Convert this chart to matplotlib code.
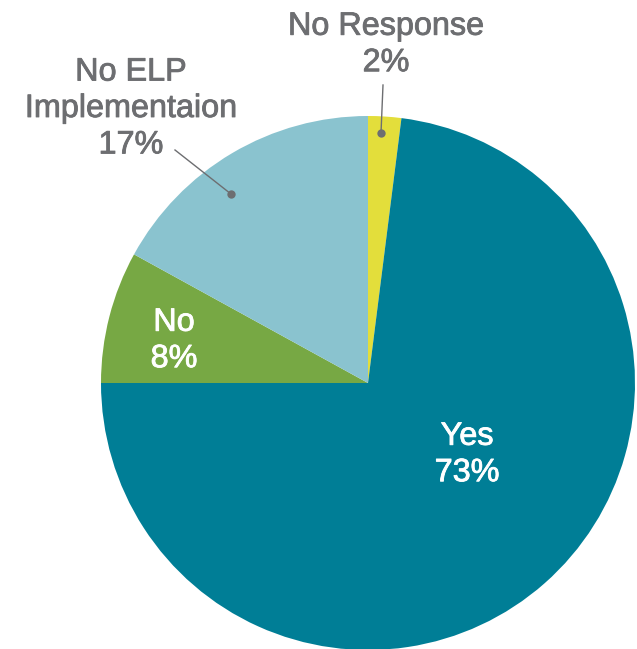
import matplotlib
matplotlib.use("Agg")
import matplotlib.pyplot as plt
import matplotlib.patheffects as pe

labels = ["No Response", "Yes", "No", "No ELP\nImplementaion"]
values = [2, 73, 8, 17]
colors = ["#E3DE3B", "#007E96", "#77A844", "#8AC3CF"]

W, H = 637, 649
fig = plt.figure(figsize=(W / 100, H / 100), dpi=100)
ax = fig.add_axes([0, 0, 1, 1])

cx, cy, R = 368, H - 383, 267
ax.pie(values, colors=colors, startangle=90, counterclock=False,
       center=(cx, cy), radius=R, wedgeprops=dict(linewidth=0),
       frame=True)
ax.set_xlim(0, W)
ax.set_ylim(0, H)
ax.set_aspect("equal")
ax.axis("off")

grey = "#6D6E71"
fam = ["Liberation Sans", "DejaVu Sans"]
fs = 23.3
ls = 1.28

def pct(v):
    return f"{v}%"

def label(x, y, s, c):
    ax.text(x, y, s, ha="center", va="center", color=c, fontsize=fs,
            family=fam, linespacing=ls,
            path_effects=[pe.withStroke(linewidth=0.6, foreground=c)])

label(386, H - 45, f"{labels[0]}\n{pct(values[0])}", grey)
label(131, H - 109, f"{labels[3]}\n{pct(values[3])}", grey)
label(174, H - 341, f"{labels[2]}\n{pct(values[2])}", "white")
label(467, H - 455, f"{labels[1]}\n{pct(values[1])}", "white")

# leader lines with dots
ax.plot([383, 381], [H - 85, H - 133], color=grey, lw=1.0)
ax.plot([175, 231], [H - 150, H - 194], color=grey, lw=1.0)
ax.scatter([381, 231], [H - 133, H - 194], s=36, color=grey, zorder=5, linewidths=0)

fig.savefig("out.png", dpi=100)
